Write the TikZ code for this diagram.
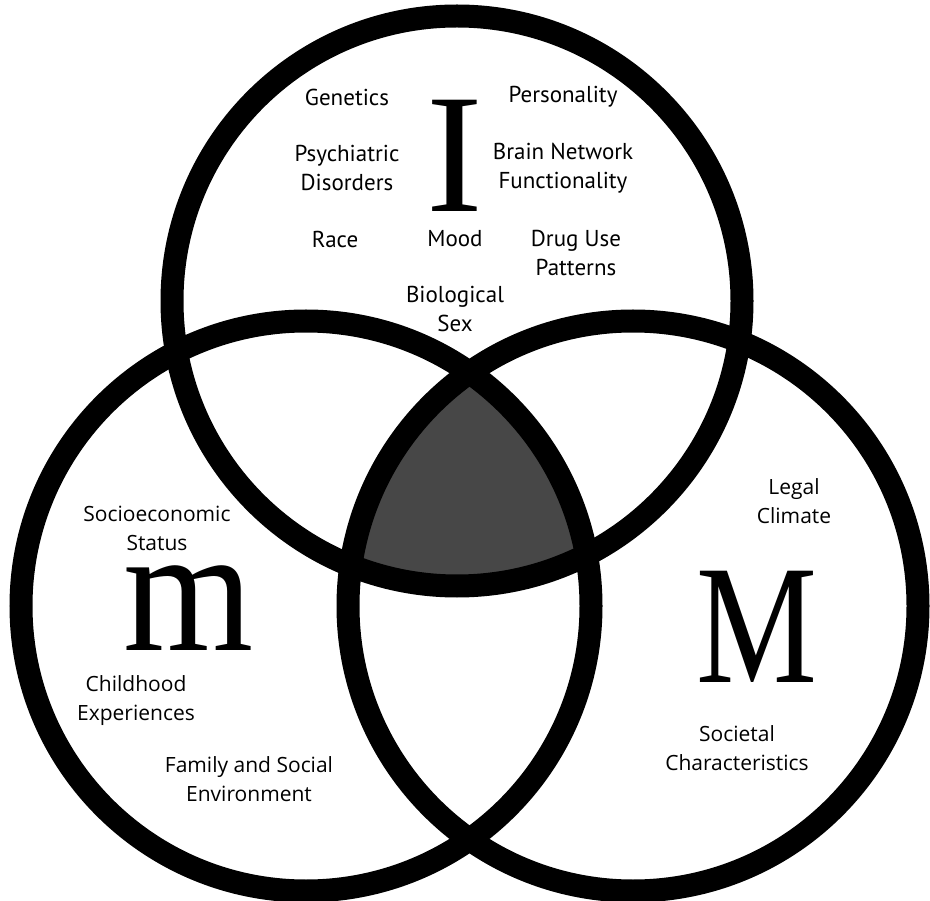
\documentclass[tikz,border=0pt]{standalone}
\usepackage{fontspec}
\setmainfont{Liberation Serif}
\newfontfamily\traitfont{PT Sans}
\newfontfamily\contextfont{Open Sans}
\tikzset{
  ring/.style={draw=black, line width=23pt},
  core/.style={fill=black!72},
  trait/.style={align=center, inner sep=0pt, font=\traitfont\fontsize{23}{29}\selectfont},
  context/.style={align=center, inner sep=0pt, font=\contextfont\fontsize{21}{29}\selectfont},
  bigletter/.style={inner sep=0pt, font=\fontsize{170}{170}\selectfont}
}

\begin{document}
\begin{tikzpicture}[x=1pt, y=-1pt]
\useasboundingbox (0,0) rectangle (930,901);
\coordinate (ci) at (457,301);
\coordinate (cm) at (306,606);
\coordinate (cM) at (633,606);
\begin{scope}
  \clip (ci) circle (285);
  \clip (cm) circle (285);
  \fill[core] (cM) circle (285);
\end{scope}
\draw[ring] (ci) circle (285);
\draw[ring] (cm) circle (285);
\draw[ring] (cM) circle (285);
\node[bigletter] (I) at (455,156) {I};
\node[bigletter, font=\fontsize{180}{180}\selectfont] (m) at (189,608) {\scalebox{0.93}[1]{m}};
\node[bigletter] (M) at (757,627) {\scalebox{0.8}[1]{M}};
\node[trait] (genetics) at (347,97) {Genetics};
\node[trait] (personality) at (563,97) {Personality};
\node[trait] (psych) at (347,168) {Psychiatric\\Disorders};
\node[trait] (brain) at (563,168) {Brain Network\\Functionality};
\node[trait] (race) at (335,239) {Race};
\node[trait] (mood) at (455,239) {Mood};
\node[trait] (drug) at (576,253) {Drug Use\\Patterns};
\node[trait] (sex) at (455,309) {Biological\\Sex};
\node[context] (ses) at (157,528) {Socioeconomic\\Status};
\node[context] (child) at (136,701) {Childhood\\Experiences};
\node[context] (family) at (249,779) {Family and Social\\Environment};
\node[context] (legal) at (794,501) {Legal\\Climate};
\node[context] (society) at (737,748) {Societal\\Characteristics};
\end{tikzpicture}
\end{document}
